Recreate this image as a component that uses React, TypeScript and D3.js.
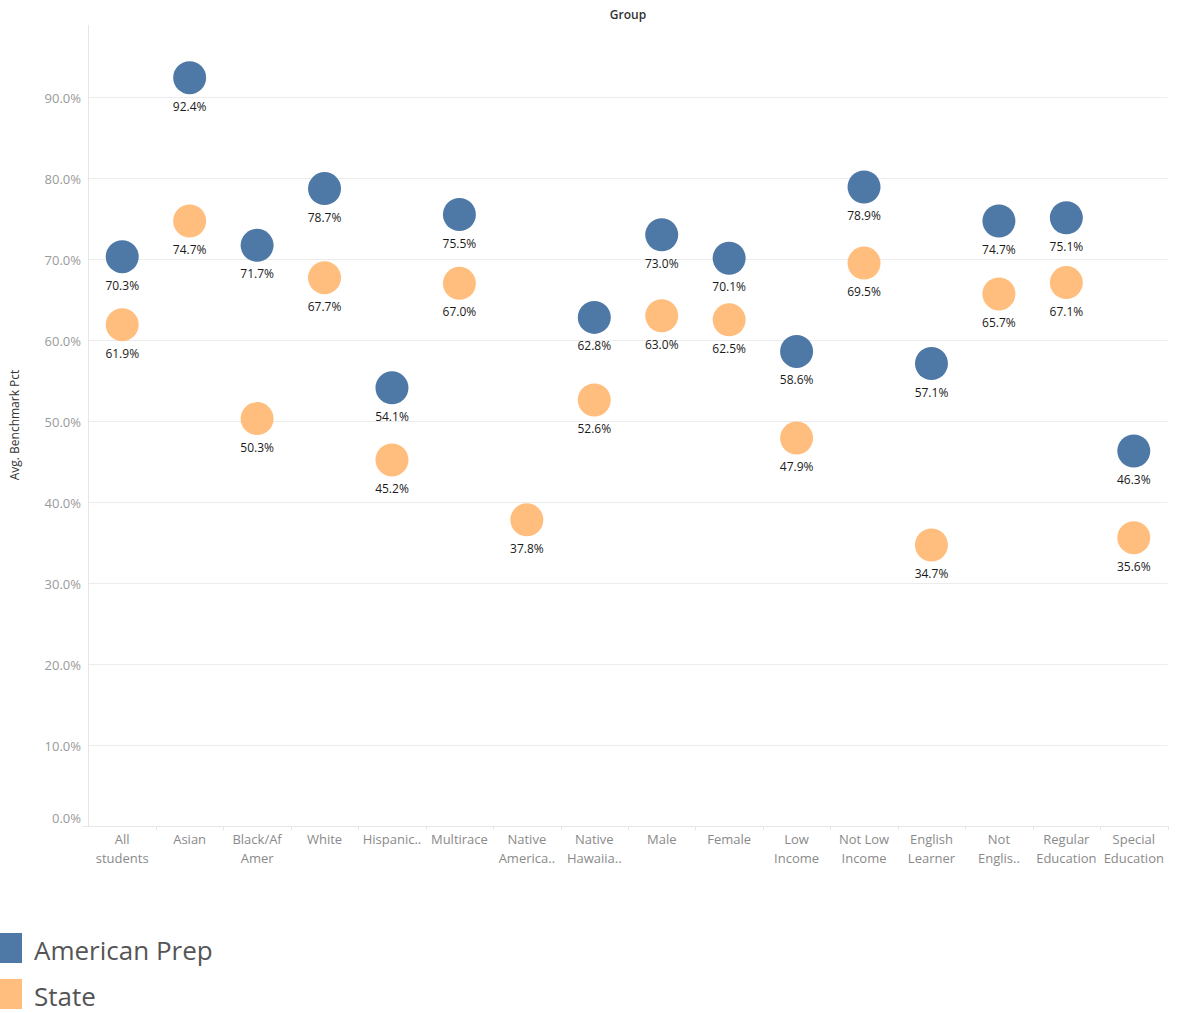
import { useEffect, useRef } from "react";
import * as d3 from "d3";

const GROUPS = [
  "All\nstudents",
  "Asian",
  "Black/Af\nAmer",
  "White",
  "Hispanic..",
  "Multirace",
  "Native\nAmerica..",
  "Native\nHawaiia..",
  "Male",
  "Female",
  "Low\nIncome",
  "Not Low\nIncome",
  "English\nLearner",
  "Not\nEnglis..",
  "Regular\nEducation",
  "Special\nEducation",
];

// null = no value shown for that group
const AMERICAN_PREP: (number | null)[] = [
  70.3, 92.4, 71.7, 78.7, 54.1, 75.5, null, 62.8, 73.0, 70.1, 58.6, 78.9, 57.1, 74.7, 75.1, 46.3,
];
const STATE: (number | null)[] = [
  61.9, 74.7, 50.3, 67.7, 45.2, 67.0, 37.8, 52.6, 63.0, 62.5, 47.9, 69.5, 34.7, 65.7, 67.1, 35.6,
];

const Y_TICKS = [0, 10, 20, 30, 40, 50, 60, 70, 80, 90];

const SERIES = [
  { name: "American Prep", color: "#4e79a7", values: AMERICAN_PREP },
  { name: "State", color: "#ffbe7d", values: STATE },
];

const FONT = "'Open Sans', Lato, sans-serif";

export default function App() {
  const svgRef = useRef<SVGSVGElement>(null);

  useEffect(() => {
    if (!svgRef.current) return;
    const svg = d3.select(svgRef.current);
    svg.selectAll("*").remove();

    const width = 1177;
    const height = 1013;
    const plot = { left: 88.5, right: 1167.5, top: 25, bottom: 826 };

    const x = d3.scaleBand().domain(GROUPS).range([plot.left, plot.right]);
    const y = d3.scaleLinear().domain([0, 98.9]).range([plot.bottom, plot.top]);

    svg.attr("viewBox", `0 0 ${width} ${height}`);

    // Title
    svg.append("text")
      .attr("x", 628).attr("y", 19)
      .attr("text-anchor", "middle")
      .attr("fill", "#333").attr("font-size", "12px").attr("font-weight", 600)
      .attr("font-family", FONT)
      .text("Group");

    // Gridlines
    const grid = svg.append("g");
    Y_TICKS.filter((t) => t > 0).forEach((t) => {
      grid.append("line")
        .attr("x1", plot.left).attr("x2", plot.right)
        .attr("y1", Math.round(y(t)) + 0.5).attr("y2", Math.round(y(t)) + 0.5)
        .attr("stroke", "#ececec").attr("stroke-width", 1);
    });

    // Axis lines
    svg.append("line")
      .attr("x1", plot.left).attr("x2", plot.left)
      .attr("y1", plot.top).attr("y2", plot.bottom)
      .attr("stroke", "#e6e6e6");
    svg.append("line")
      .attr("x1", plot.left - 6).attr("x2", plot.right)
      .attr("y1", plot.bottom + 0.5).attr("y2", plot.bottom + 0.5)
      .attr("stroke", "#e6e6e6");

    // X ticks between categories
    GROUPS.forEach((g) => {
      const bx = Math.round((x(g) ?? 0) + x.bandwidth()) + 0.5;
      svg.append("line")
        .attr("x1", bx).attr("x2", bx)
        .attr("y1", plot.bottom).attr("y2", plot.bottom + 4)
        .attr("stroke", "#e6e6e6");
    });

    // Y tick labels
    Y_TICKS.forEach((t) => {
      svg.append("text")
        .attr("x", 81)
        .attr("y", t === 0 ? y(t) - 8 : y(t) + 1.5)
        .attr("dy", "0.35em")
        .attr("text-anchor", "end")
        .attr("fill", "#9a9a9a").attr("font-size", "13px")
        .attr("font-family", FONT)
        .text(`${t.toFixed(1)}%`);
    });

    // Y axis title
    svg.append("text")
      .attr("transform", `translate(19, 425) rotate(-90)`)
      .attr("text-anchor", "middle")
      .attr("fill", "#333").attr("font-size", "12px")
      .attr("font-family", FONT)
      .text("Avg. Benchmark Pct");

    // X category labels
    GROUPS.forEach((g) => {
      const cx = (x(g) ?? 0) + x.bandwidth() / 2;
      const t = svg.append("text")
        .attr("text-anchor", "middle")
        .attr("fill", "#8a8a8a").attr("font-size", "13px")
        .attr("font-family", FONT);
      g.split("\n").forEach((line, i) => {
        t.append("tspan").attr("x", cx).attr("y", 844 + i * 19).text(line);
      });
    });

    // Points and labels
    SERIES.forEach((s) => {
      s.values.forEach((v, i) => {
        if (v == null) return;
        const cx = (x(GROUPS[i]) ?? 0) + x.bandwidth() / 2;
        const cy = y(v);
        svg.append("circle")
          .attr("cx", cx).attr("cy", cy).attr("r", 16.5)
          .attr("fill", s.color);
        svg.append("text")
          .attr("x", cx).attr("y", cy + 33)
          .attr("text-anchor", "middle")
          .attr("fill", "#1a1a1a").attr("font-size", "12px")
          .attr("font-family", FONT)
          .text(`${v.toFixed(1)}%`);
      });
    });

    // Legend
    SERIES.forEach((s, i) => {
      const ly = 933 + i * 46;
      svg.append("rect")
        .attr("x", 0).attr("y", ly).attr("width", 22).attr("height", 30)
        .attr("fill", s.color);
      svg.append("text")
        .attr("x", 34).attr("y", ly + 27)
        .attr("fill", "#555").attr("font-size", "26px")
        .attr("font-family", FONT)
        .text(s.name);
    });
  }, []);

  return (
    <svg
      ref={svgRef}
      width={1177}
      height={1013}
      style={{ position: "absolute", left: 0, top: 0, background: "#fff" }}
    />
  );
}
